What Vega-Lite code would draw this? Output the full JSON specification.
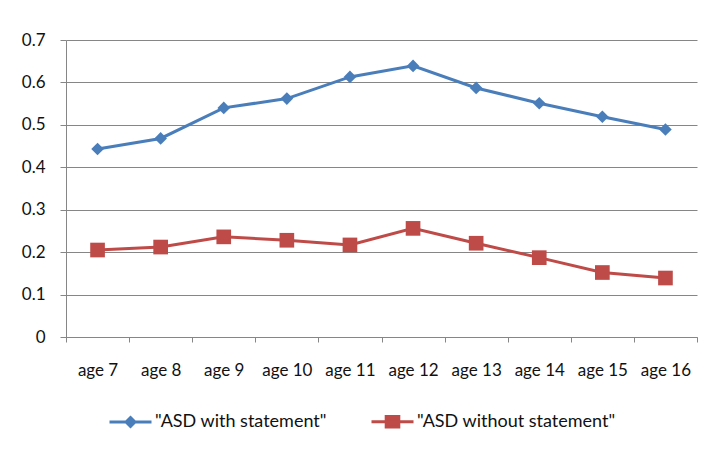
{
  "$schema": "https://vega.github.io/schema/vega-lite/v6.json",
  "width": 631,
  "height": 297,
  "autosize": "none",
  "padding": {"left": 66, "top": 40, "right": 26, "bottom": 133},
  "background": "white",
  "config": {
    "view": {"stroke": null},
    "font": "Lato",
    "axis": {"labelFont": "Lato", "labelFontSize": 17, "labelColor": "#111111", "domainColor": "#868686", "tickColor": "#868686", "gridColor": "#868686", "title": null},
    "legend": {"labelFont": "Lato", "labelFontSize": 18, "labelColor": "#111111", "labelLimit": 0}
  },
  "data": {
    "values": [
      {"age": "age 7", "series": "\"ASD with statement\"", "value": 0.443},
      {"age": "age 8", "series": "\"ASD with statement\"", "value": 0.468},
      {"age": "age 9", "series": "\"ASD with statement\"", "value": 0.540},
      {"age": "age 10", "series": "\"ASD with statement\"", "value": 0.562},
      {"age": "age 11", "series": "\"ASD with statement\"", "value": 0.613},
      {"age": "age 12", "series": "\"ASD with statement\"", "value": 0.639},
      {"age": "age 13", "series": "\"ASD with statement\"", "value": 0.587},
      {"age": "age 14", "series": "\"ASD with statement\"", "value": 0.551},
      {"age": "age 15", "series": "\"ASD with statement\"", "value": 0.519},
      {"age": "age 16", "series": "\"ASD with statement\"", "value": 0.489},
      {"age": "age 7", "series": "\"ASD without statement\"", "value": 0.205},
      {"age": "age 8", "series": "\"ASD without statement\"", "value": 0.212},
      {"age": "age 9", "series": "\"ASD without statement\"", "value": 0.236},
      {"age": "age 10", "series": "\"ASD without statement\"", "value": 0.228},
      {"age": "age 11", "series": "\"ASD without statement\"", "value": 0.217},
      {"age": "age 12", "series": "\"ASD without statement\"", "value": 0.256},
      {"age": "age 13", "series": "\"ASD without statement\"", "value": 0.221},
      {"age": "age 14", "series": "\"ASD without statement\"", "value": 0.187},
      {"age": "age 15", "series": "\"ASD without statement\"", "value": 0.152},
      {"age": "age 16", "series": "\"ASD without statement\"", "value": 0.139}
    ]
  },
  "encoding": {
    "x": {
      "field": "age", "type": "nominal", "sort": null,
      "scale": {"paddingInner": 0, "paddingOuter": 0},
      "axis": {"labelAngle": 0, "tickBand": "extent", "tickSize": 5, "labelPadding": 28, "labelBaseline": "middle", "grid": false, "domainWidth": 1}
    },
    "y": {
      "field": "value", "type": "quantitative",
      "scale": {"domain": [0, 0.7], "nice": false, "zero": true},
      "axis": {"values": [0, 0.1, 0.2, 0.3, 0.4, 0.5, 0.6, 0.7], "format": "~g", "tickSize": 6, "labelPadding": 15, "grid": true, "gridWidth": 1}
    }
  },
  "layer": [
    {
      "mark": {"type": "line", "strokeWidth": 3},
      "encoding": {
        "color": {
          "field": "series", "type": "nominal",
          "scale": {"domain": ["\"ASD with statement\"", "\"ASD without statement\""], "range": ["#4A7EBB", "#BE4B48"]},
          "legend": {
            "orient": "none", "legendX": 42, "legendY": 359, "direction": "horizontal", "title": null,
            "symbolSize": 1764, "symbolStrokeWidth": 3, "labelOffset": 2, "columnPadding": 38,
            "encode": {
              "symbols": {
                "update": {
                  "shape": {"signal": "datum.value === '\"ASD with statement\"' ? 'M-1,0H1M0,-0.21L0.21,0L0,0.21L-0.21,0Z' : 'M-1,0H1M-0.3,-0.25H0.3V0.25H-0.3Z'"},
                  "fill": {"scale": "color", "field": "value"},
                  "stroke": {"scale": "color", "field": "value"},
                  "strokeWidth": {"value": 3},
                  "size": {"value": 1764}
                }
              }
            }
          }
        }
      }
    },
    {
      "transform": [{"filter": "datum.series === '\"ASD with statement\"'"}],
      "mark": {"type": "point", "filled": true, "opacity": 1, "strokeWidth": 0, "shape": "diamond", "size": 160, "color": "#4A7EBB"}
    },
    {
      "transform": [{"filter": "datum.series === '\"ASD without statement\"'"}],
      "mark": {"type": "point", "filled": true, "opacity": 1, "strokeWidth": 0, "shape": "square", "size": 215, "color": "#BE4B48"}
    }
  ]
}
